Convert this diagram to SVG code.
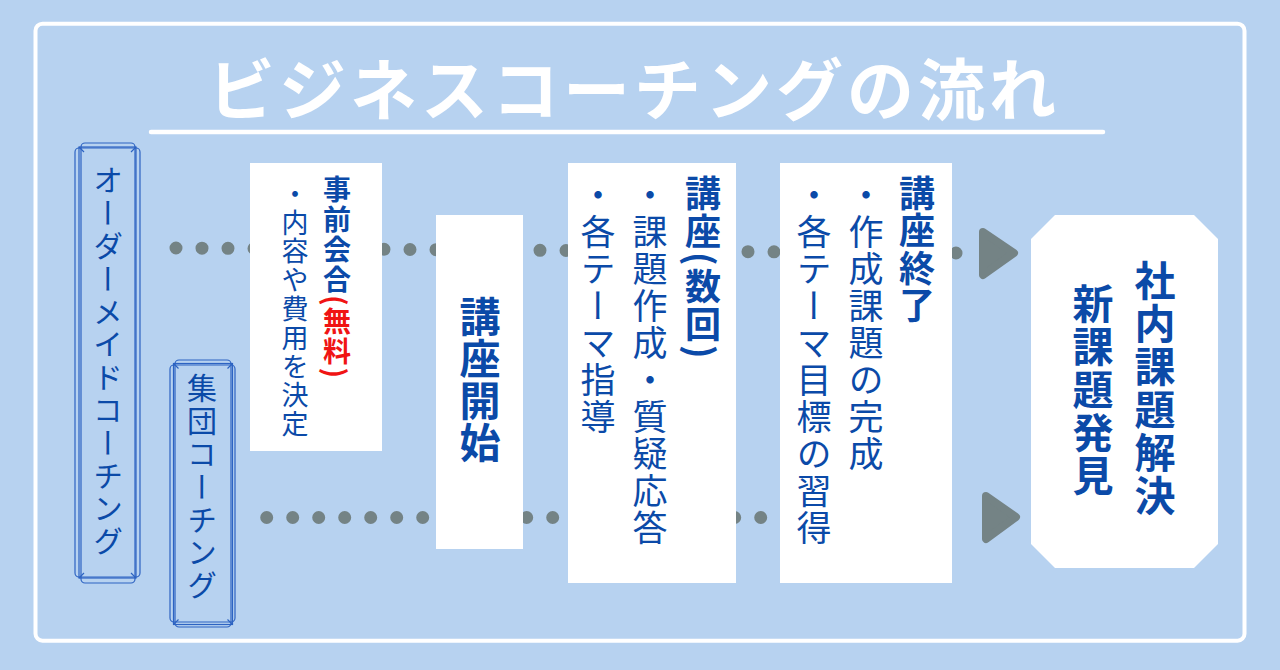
<svg xmlns="http://www.w3.org/2000/svg" width="1280" height="670" viewBox="0 0 1280 670">
<style>
  .cjk { font-family: "Noto Sans CJK JP", "Noto Sans", sans-serif; }
  .v { writing-mode: vertical-rl; }
  .blue { fill: #0b4aa8; }
  .red { fill: #f01414; }
  .b { font-weight: 700; }
  .box { fill: #ffffff; }
  .frame { fill: none; stroke: #2d63c2; stroke-width: 1.2; }
  .dots { fill: none; stroke: #748385; stroke-width: 13; stroke-linecap: round; }
  .arrow { fill: #748385; stroke: #748385; stroke-width: 8; stroke-linejoin: round; }
</style>
<rect x="0" y="0" width="1280" height="670" fill="#b7d2f0"/>
<rect x="35.5" y="23.7" width="1209" height="617" rx="7" fill="none" stroke="#ffffff" stroke-width="4"/>

<g id="title">
  <text class="cjk b" x="634" y="85" font-size="67" letter-spacing="4" text-anchor="middle" dominant-baseline="central" fill="#ffffff">ビジネスコーチングの流れ</text>
  <line x1="151" y1="132" x2="1103" y2="132" stroke="#ffffff" stroke-width="4.5" stroke-linecap="round"/>
</g>

<g id="connectors">
  <line class="dots" x1="176" y1="248" x2="956" y2="253" stroke-dasharray="0 26.0005"/>
  <polygon class="arrow" points="983,232 1014,253 983,275"/>
  <line class="dots" x1="266.7" y1="517.5" x2="968.7" y2="517.5" stroke-dasharray="0 26"/>
  <polygon class="arrow" points="986,496 1016,517 986,539"/>
</g>

<g id="ordermade">
  <rect class="frame" x="75" y="148" width="65" height="429" rx="4"/>
  <rect class="frame" x="81" y="143" width="54" height="440" rx="4"/>
  <rect class="frame" x="79" y="147" width="57" height="431" stroke-width="0.9"/>
  <path class="frame" d="M79 147 L84 152 M136 147 L131 152 M79 578 L84 573 M136 578 L131 573" stroke-width="0.9"/>
  <text class="cjk v blue" x="108" y="165" font-size="30" letter-spacing="2.8">オーダーメイドコーチング</text>
</g>

<g id="group">
  <rect class="frame" x="170" y="365" width="65" height="257" rx="4"/>
  <rect class="frame" x="175" y="360" width="56" height="267" rx="4"/>
  <rect class="frame" x="173.5" y="363.5" width="59" height="261" stroke-width="0.9"/>
  <path class="frame" d="M173.5 363.5 L178.5 368.5 M232.5 363.5 L227.5 368.5 M173.5 624.5 L178.5 619.5 M232.5 624.5 L227.5 619.5" stroke-width="0.9"/>
  <text class="cjk v blue" x="202" y="373" font-size="30" letter-spacing="2.8">集団コーチング</text>
</g>

<g id="step1">
  <rect class="box" x="250" y="163" width="132" height="288"/>
  <text class="cjk v blue b" x="337" y="175" font-size="28" letter-spacing="2">事前会合<tspan class="red">(無料)</tspan></text>
  <text class="cjk v blue" x="295" y="180" font-size="27" letter-spacing="1.8">・内容や費用を決定</text>
</g>

<g id="step2">
  <rect class="box" x="436" y="215" width="87" height="334"/>
  <text class="cjk v blue b" x="480" y="296" font-size="41" letter-spacing="1">講座開始</text>
</g>

<g id="step3">
  <rect class="box" x="568" y="163" width="168" height="420"/>
  <text class="cjk v blue b" x="703" y="175" font-size="36" letter-spacing="2.5">講座(数回)</text>
  <text class="cjk v blue" x="650" y="177" font-size="35" letter-spacing="2">・課題作成・質疑応答</text>
  <text class="cjk v blue" x="598" y="177" font-size="35" letter-spacing="2">・各テーマ指導</text>
</g>

<g id="step4">
  <rect class="box" x="780" y="163" width="172" height="420"/>
  <text class="cjk v blue b" x="917" y="175" font-size="36" letter-spacing="1.5">講座終了</text>
  <text class="cjk v blue" x="866" y="177" font-size="35" letter-spacing="2">・作成課題の完成</text>
  <text class="cjk v blue" x="814" y="177" font-size="35" letter-spacing="2">・各テーマ目標の習得</text>
</g>

<g id="result">
  <polygon class="box" points="1055,215 1194,215 1218,239 1218,544 1194,568 1055,568 1031,544 1031,239"/>
  <text class="cjk v blue b" x="1155" y="260" font-size="41" letter-spacing="2">社内課題解決</text>
  <text class="cjk v blue b" x="1093" y="283" font-size="41" letter-spacing="2">新課題発見</text>
</g>
</svg>
